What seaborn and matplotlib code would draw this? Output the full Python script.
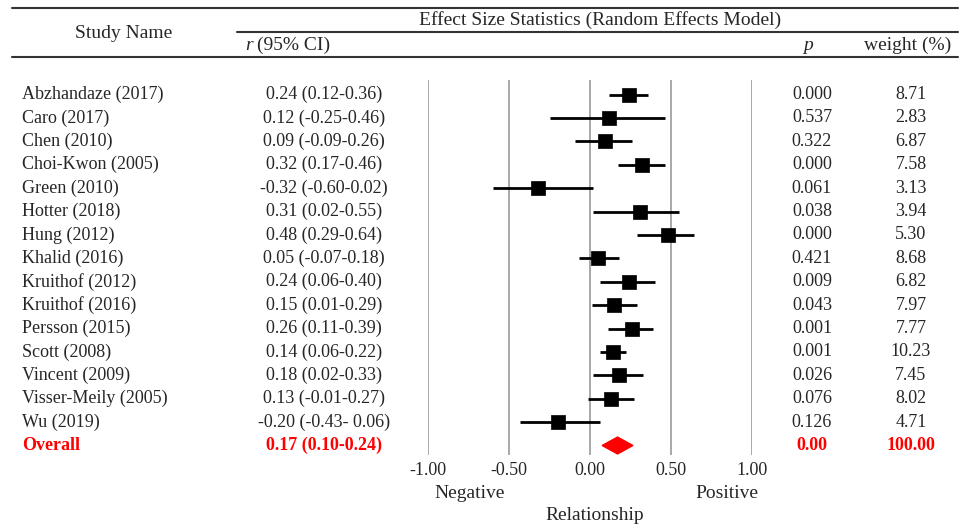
import matplotlib
matplotlib.use("Agg")
import matplotlib.pyplot as plt
import seaborn as sns
import pandas as pd
import numpy as np
from matplotlib.patches import Polygon
from matplotlib.lines import Line2D

sns.set_theme(style="white")
plt.rcParams['font.family'] = ['Liberation Serif', 'DejaVu Serif']

studies = ["Abzhandaze (2017)", "Caro (2017)", "Chen (2010)", "Choi-Kwon (2005)",
           "Green (2010)", "Hotter (2018)", "Hung (2012)", "Khalid (2016)",
           "Kruithof (2012)", "Kruithof (2016)", "Persson (2015)", "Scott (2008)",
           "Vincent (2009)", "Visser-Meily (2005)", "Wu (2019)"]
r_vals = [0.24, 0.12, 0.09, 0.32, -0.32, 0.31, 0.48, 0.05, 0.24, 0.15, 0.26, 0.14, 0.18, 0.13, -0.20]
ci_lo = [0.12, -0.25, -0.09, 0.17, -0.60, 0.02, 0.29, -0.07, 0.06, 0.01, 0.11, 0.06, 0.02, -0.01, -0.43]
ci_hi = [0.36, 0.46, 0.26, 0.46, 0.02, 0.55, 0.64, 0.18, 0.40, 0.29, 0.39, 0.22, 0.33, 0.27, 0.06]
ci_text = ["0.24 (0.12-0.36)", "0.12 (-0.25-0.46)", "0.09 (-0.09-0.26)", "0.32 (0.17-0.46)",
           "-0.32 (-0.60-0.02)", "0.31 (0.02-0.55)", "0.48 (0.29-0.64)", "0.05 (-0.07-0.18)",
           "0.24 (0.06-0.40)", "0.15 (0.01-0.29)", "0.26 (0.11-0.39)", "0.14 (0.06-0.22)",
           "0.18 (0.02-0.33)", "0.13 (-0.01-0.27)", "-0.20 (-0.43- 0.06)"]
p_text = ["0.000", "0.537", "0.322", "0.000", "0.061", "0.038", "0.000", "0.421",
          "0.009", "0.043", "0.001", "0.001", "0.026", "0.076", "0.126"]
weights = ["8.71", "2.83", "6.87", "7.58", "3.13", "3.94", "5.30", "8.68",
           "6.82", "7.97", "7.77", "10.23", "7.45", "8.02", "4.71"]
overall_r, overall_lo, overall_hi = 0.17, 0.10, 0.24
overall_text = "0.17 (0.10-0.24)"
overall_p = "0.00"
overall_w = "100.00"
xticks = [-1.0, -0.5, 0.0, 0.5, 1.0]
xtick_labels = ["-1.00", "-0.50", "0.00", "0.50", "1.00"]

W, H = 965, 526
fig = plt.figure(figsize=(W / 100, H / 100), dpi=100)

# axes geometry in pixels
x0, x1 = 428, 752
y_top, y_bot = 80, 455
ax = fig.add_axes([x0 / W, 1 - y_bot / H, (x1 - x0) / W, (y_bot - y_top) / H])
ax.set_xlim(-1, 1)
row0, step = 94.5, 23.4
n = len(studies)
ax.set_ylim(n + (y_bot - (row0 + n * step)) / step, -(row0 - y_top) / step)
for s in ax.spines.values():
    s.set_visible(False)
ax.set_yticks([])
ax.set_xticks(xticks)
ax.set_xticklabels(xtick_labels, fontsize=13)
ax.tick_params(axis='x', length=0, pad=5)
for t in xticks:
    ax.axvline(t, color="#999999", lw=1.2, zorder=0)

df = pd.DataFrame({"study": studies, "r": r_vals, "lo": ci_lo, "hi": ci_hi,
                   "row": np.arange(n)})
ax.hlines(df["row"], df["lo"], df["hi"], color="black", lw=2.0, zorder=2)
sns.scatterplot(data=df, x="r", y="row", marker="s", s=90, color="black",
                edgecolor="black", linewidth=0.5, ax=ax, zorder=3, legend=False)
ax.set_xlabel("")
ax.set_ylabel("")
ax.set_yticks([])

# overall diamond
dh = 0.36
diamond = Polygon([[overall_lo - 0.025, n], [overall_r, n - dh], [overall_hi + 0.025, n], [overall_r, n + dh]],
                  closed=True, color="#FF0000", zorder=3)
ax.add_patch(diamond)

# text columns
trans = matplotlib.transforms.blended_transform_factory(fig.transFigure, ax.transData)
fs = 13
def fx(px):
    return px / W
for i in range(n):
    ax.text(fx(22), i, studies[i], transform=trans, fontsize=fs, ha="left", va="center")
    ax.text(fx(324), i, ci_text[i], transform=trans, fontsize=fs, ha="center", va="center")
    ax.text(fx(812), i, p_text[i], transform=trans, fontsize=fs, ha="center", va="center")
    ax.text(fx(911), i, weights[i], transform=trans, fontsize=fs, ha="center", va="center")
red = "#FF0000"
ax.text(fx(22), n, "Overall", transform=trans, fontsize=fs, ha="left", va="center",
        color=red, fontweight="bold")
ax.text(fx(324), n, overall_text, transform=trans, fontsize=fs, ha="center", va="center",
        color=red, fontweight="bold")
ax.text(fx(812), n, overall_p, transform=trans, fontsize=fs, ha="center", va="center",
        color=red, fontweight="bold")
ax.text(fx(911), n, overall_w, transform=trans, fontsize=fs, ha="center", va="center",
        color=red, fontweight="bold")

# header
def fy(py):
    return 1 - py / H
lc = "#333333"
fig.add_artist(Line2D([fx(12), fx(958)], [fy(8), fy(8)], color=lc, lw=1.5))
fig.add_artist(Line2D([fx(237), fx(958)], [fy(32), fy(32)], color=lc, lw=1.5))
fig.add_artist(Line2D([fx(12), fx(958)], [fy(57), fy(57)], color=lc, lw=1.5))
fig.text(fx(600), fy(20), "Effect Size Statistics (Random Effects Model)", fontsize=14,
         ha="center", va="center")
fig.text(fx(124), fy(33), "Study Name", fontsize=14, ha="center", va="center")
fig.text(fx(245), fy(45), "r", fontsize=14, ha="left", va="center", style="italic")
fig.text(fx(257), fy(45), "(95% CI)", fontsize=14, ha="left", va="center")
fig.text(fx(808), fy(45), "p", fontsize=14, ha="center", va="center", style="italic")
fig.text(fx(908), fy(45), "weight (%)", fontsize=14, ha="center", va="center")

# footer labels
fig.text(fx(470), fy(493), "Negative", fontsize=14, ha="center", va="center")
fig.text(fx(727), fy(493), "Positive", fontsize=14, ha="center", va="center")
fig.text(fx(595), fy(516), "Relationship", fontsize=14, ha="center", va="center")

fig.savefig("out.png", dpi=100)
